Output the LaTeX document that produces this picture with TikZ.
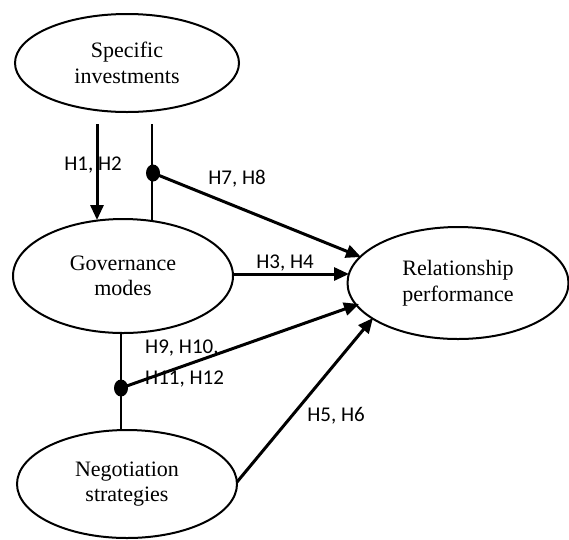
\documentclass[tikz,border=0pt]{standalone}
\usepackage{fontspec}
\setmainfont{Liberation Serif}
\newfontfamily\hfont{Carlito}
\usetikzlibrary{shapes.geometric,arrows.meta}
\begin{document}
\begin{tikzpicture}[x=1pt,y=-1pt,
  construct/.style={draw,ellipse,line width=2pt,inner sep=0pt,
    font=\fontsize{22}{25.5}\selectfont,align=center},
  effect/.style={line width=3pt,-{Triangle[length=15pt,width=13pt]}},
  link/.style={line width=2.2pt},
  hlabel/.style={font=\hfont\fontsize{21}{31}\selectfont,inner sep=0pt,align=left},
  joint/.style={fill=black,ellipse,minimum width=14pt,minimum height=17pt,inner sep=0pt}]
\useasboundingbox (0,0) rectangle (569,539);

% constructs
\node[construct,minimum width=224pt,minimum height=98pt] (spec) at (127,63) {Specific\\investments};
\node[construct,minimum width=220pt,minimum height=114pt] (gov) at (123,276) {Governance\\modes};
\node[construct,minimum width=220pt,minimum height=108pt] (neg) at (127,484) {Negotiation\\strategies};
\node[construct,minimum width=221pt,minimum height=112pt] (rel) at (458,283) {Relationship\\performance};

% connector ends
\coordinate (s1) at (97,124);
\coordinate (g1) at (97,220);
\coordinate (s2) at (152,124);
\coordinate (g2) at (152,221);
\coordinate (g3) at (121,333);
\coordinate (n3) at (121,430);
\coordinate (g4) at (233,274);
\coordinate (r4) at (349,274);
\coordinate (r7) at (361,257);
\coordinate (r9) at (359,304);
\coordinate (n5) at (237,482);
\coordinate (r5) at (373,318);

% moderator junctions
\node[joint] (m1) at (153,173) {};
\node[joint] (m2) at (121,388) {};

% thin links between constructs
\draw[link] (s2) -- (g2);
\draw[link] (g3) -- (n3);

% hypothesised effects
\draw[effect] (s1) -- (g1);
\draw[effect] (m1.center) -- (r7);
\draw[effect] (g4) -- (r4);
\draw[effect] (m2.center) -- (r9);
\draw[effect] (n5) -- (r5);

% hypothesis labels
\node[hlabel] (l12) at (93,165) {H1, H2};
\node[hlabel] (l78) at (237,179) {H7, H8};
\node[hlabel] (l34) at (285,263.5) {H3, H4};
\node[hlabel,anchor=north west] (l912) at (145,340) {H9, H10,\\H11, H12};
\node[hlabel] (l56) at (336,416) {H5, H6};
\end{tikzpicture}
\end{document}
